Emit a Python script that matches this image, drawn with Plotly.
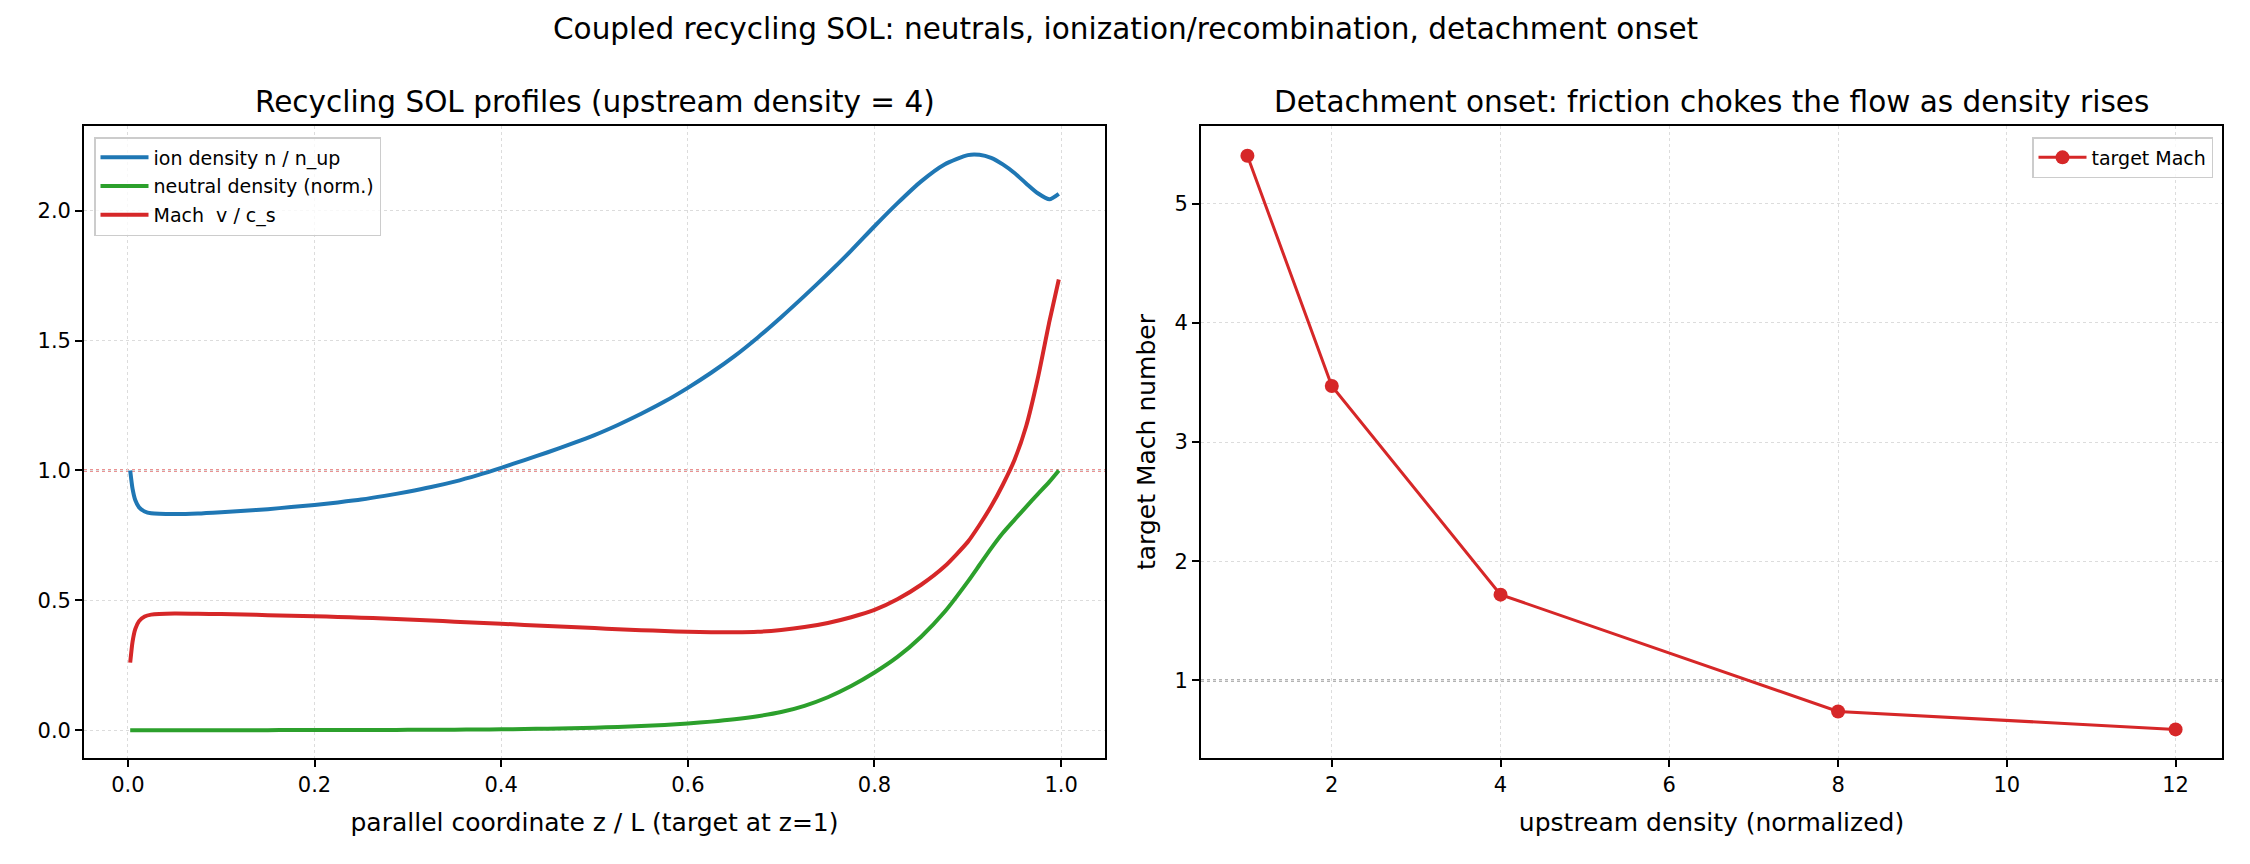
import plotly.graph_objects as go

# ---------------- data ----------------
z = [0.0025, 0.005, 0.008, 0.012, 0.018,
     0.025, 0.05, 0.075, 0.1, 0.125, 0.15, 0.175, 0.2, 0.225, 0.25, 0.275, 0.3,
     0.325, 0.35, 0.375, 0.4, 0.425, 0.45, 0.475, 0.5, 0.525, 0.55, 0.575, 0.6,
     0.625, 0.65, 0.675, 0.7, 0.725, 0.75, 0.775, 0.8, 0.825, 0.85, 0.875, 0.9,
     0.9125, 0.925, 0.9375, 0.95, 0.9625, 0.975, 0.9875, 0.9975]

ion_density = [1.0, 0.93, 0.885, 0.858, 0.842,
               0.835, 0.832, 0.834, 0.839, 0.845, 0.851, 0.859, 0.867, 0.877, 0.888, 0.902, 0.918,
               0.936, 0.957, 0.982, 1.01, 1.04, 1.07, 1.102, 1.136, 1.175, 1.218, 1.265, 1.318,
               1.376, 1.44, 1.512, 1.59, 1.672, 1.757, 1.846, 1.94, 2.03, 2.113, 2.178, 2.214,
               2.215, 2.203, 2.178, 2.145, 2.105, 2.067, 2.044, 2.065]

neutral_density = [0.0, 0.0, 0.0, 0.0, 0.0,
                   0.0, 0.0001, 0.0001, 0.0002, 0.0002, 0.0003, 0.0004, 0.0005, 0.0006, 0.0008, 0.001, 0.0013,
                   0.0017, 0.0022, 0.0028, 0.0036, 0.0047, 0.006, 0.0077, 0.0098, 0.0125, 0.016, 0.0205, 0.026,
                   0.033, 0.042, 0.054, 0.07, 0.094, 0.127, 0.17, 0.222, 0.283, 0.36, 0.455, 0.572,
                   0.636, 0.70, 0.759, 0.81, 0.86, 0.909, 0.957, 1.0]

mach = [0.26, 0.34, 0.39, 0.42, 0.438,
        0.445, 0.449, 0.448, 0.447, 0.445, 0.443, 0.441, 0.439, 0.436, 0.433, 0.43, 0.426,
        0.422, 0.418, 0.414, 0.41, 0.405, 0.401, 0.397, 0.393, 0.389, 0.385, 0.382, 0.379,
        0.377, 0.377, 0.379, 0.386, 0.397, 0.413, 0.435, 0.463, 0.505, 0.56, 0.63, 0.725,
        0.79, 0.862, 0.945, 1.04, 1.17, 1.355, 1.575, 1.735]

upstream_density = [1, 2, 4, 8, 12]
target_mach = [5.40, 3.47, 1.72, 0.74, 0.59]

left_xticks = [0.0, 0.2, 0.4, 0.6, 0.8, 1.0]
left_yticks = [0.0, 0.5, 1.0, 1.5, 2.0]
right_xticks = [2, 4, 6, 8, 10, 12]
right_yticks = [1, 2, 3, 4, 5]

# ---------------- figure ----------------
FONT = "DejaVu Sans"
BLUE, GREEN, RED = "#1f77b4", "#2ca02c", "#d62728"

fig = go.Figure()

fig.add_trace(go.Scatter(x=z, y=ion_density, mode="lines", name="ion density n / n_up",
                         line=dict(color=BLUE, width=4, shape="spline", smoothing=0.6),
                         xaxis="x", yaxis="y", legend="legend", legendgroup="a"))
fig.add_trace(go.Scatter(x=z, y=neutral_density, mode="lines", name="neutral density (norm.)",
                         line=dict(color=GREEN, width=4, shape="spline", smoothing=0.6),
                         xaxis="x", yaxis="y", legend="legend", legendgroup="b"))
fig.add_trace(go.Scatter(x=z, y=mach, mode="lines", name="Mach  v / c_s",
                         line=dict(color=RED, width=4, shape="spline", smoothing=0.6),
                         xaxis="x", yaxis="y", legend="legend", legendgroup="c"))

fig.add_trace(go.Scatter(x=upstream_density, y=target_mach, mode="lines+markers", name="target Mach",
                         line=dict(color=RED, width=3), marker=dict(color=RED, size=14),
                         xaxis="x2", yaxis="y2", legend="legend2"))

# reference lines at 1
fig.add_shape(type="line", xref="x domain", yref="y", x0=0, x1=1, y0=1, y1=1,
              line=dict(color="rgba(214,39,40,0.5)", width=3, dash="dot"), layer="below")
fig.add_shape(type="line", xref="x2 domain", yref="y2", x0=0, x1=1, y0=1, y1=1,
              line=dict(color="rgba(128,128,128,0.6)", width=3, dash="dot"), layer="below")

axis_common = dict(
    showline=True, linecolor="black", linewidth=1.7, mirror=True,
    ticks="outside", ticklen=7, tickwidth=1.7, tickcolor="black",
    showgrid=True, gridcolor="#dcdcdc", griddash="dot", gridwidth=1,
    zeroline=False, tickfont=dict(family=FONT, size=21, color="black"),
    title_font=dict(family=FONT, size=25, color="black"),
)

ytop, ybot = 1 - 126 / 864, 1 - 758 / 864

fig.update_layout(
    width=2250, height=864,
    margin=dict(l=0, r=0, t=0, b=0),
    paper_bgcolor="white", plot_bgcolor="white",
    font=dict(family=FONT, color="black"),
    showlegend=True,
    xaxis=dict(domain=[84 / 2250, 1105 / 2250], range=[-0.047, 1.047], anchor="y",
               tickvals=left_xticks, ticktext=[f"{v:.1f}" for v in left_xticks],
               title=dict(text="parallel coordinate z / L (target at z=1)", standoff=17),
               **axis_common),
    yaxis=dict(domain=[ybot, ytop], range=[-0.107, 2.326], anchor="x",
               tickvals=left_yticks, ticktext=[f"{v:.1f}" for v in left_yticks],
               **axis_common),
    xaxis2=dict(domain=[1201 / 2250, 2222 / 2250], range=[0.45, 12.55], anchor="y2",
                tickvals=right_xticks,
                title=dict(text="upstream density (normalized)", standoff=17),
                **axis_common),
    yaxis2=dict(domain=[ybot, ytop], range=[0.35, 5.65], anchor="x2",
                tickvals=right_yticks,
                title=dict(text="target Mach number", standoff=12),
                **axis_common),
    legend=dict(x=94 / 2250, y=1 - 137 / 864, xanchor="left", yanchor="top",
                bgcolor="rgba(255,255,255,0.8)", bordercolor="#cccccc", borderwidth=1.5,
                font=dict(family=FONT, size=19, color="black"), itemwidth=48,
                tracegroupgap=1),
    legend2=dict(x=2213 / 2250, y=1 - 137 / 864, xanchor="right", yanchor="top",
                 bgcolor="rgba(255,255,255,0.8)", bordercolor="#cccccc", borderwidth=1.5,
                 font=dict(family=FONT, size=19, color="black"), itemwidth=48),
    annotations=[
        dict(text="Coupled recycling SOL: neutrals, ionization/recombination, detachment onset",
             x=0.5, y=1 - 29 / 864, xref="paper", yref="paper", showarrow=False,
             xanchor="center", yanchor="middle", font=dict(family=FONT, size=29.5, color="black")),
        dict(text="Recycling SOL profiles (upstream density = 4)",
             x=(84 + 1105) / 2 / 2250, y=1 - 102 / 864, xref="paper", yref="paper", showarrow=False,
             xanchor="center", yanchor="middle", font=dict(family=FONT, size=29.5, color="black")),
        dict(text="Detachment onset: friction chokes the flow as density rises",
             x=(1201 + 2222) / 2 / 2250, y=1 - 102 / 864, xref="paper", yref="paper", showarrow=False,
             xanchor="center", yanchor="middle", font=dict(family=FONT, size=29.5, color="black")),
    ],
)

fig.write_html("out.html")
